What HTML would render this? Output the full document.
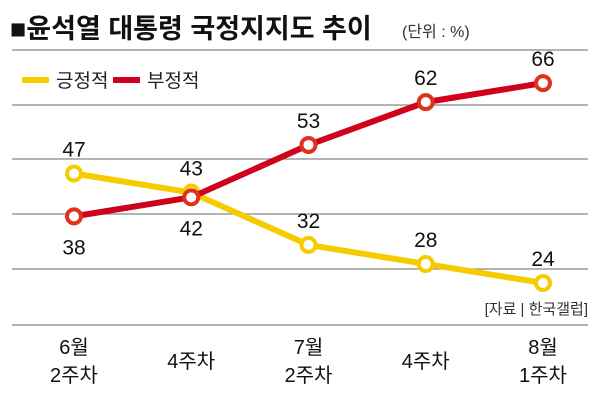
<!DOCTYPE html>
<html><head><meta charset="utf-8"><style>
body{margin:0;background:#fff;}
svg{display:block;font-family:"Liberation Sans Narrow","Liberation Sans","Noto Sans CJK KR",sans-serif;}
</style></head><body>
<svg width="600" height="408" viewBox="0 0 600 408">
<text x="10" y="38" font-size="27" font-weight="bold" fill="#111" font-family="Liberation Sans,Noto Sans CJK KR,sans-serif">■윤석열 대통령 국정지지도 추이</text>
<text x="402" y="37" font-size="16" fill="#333" font-family="Liberation Sans,Noto Sans CJK KR,sans-serif">(단위 : %)</text>
<g id="grid"></g>
<rect x="22" y="77" width="27" height="6" fill="#f5cc00"/>
<text x="56" y="87" font-size="19" fill="#222" font-family="Liberation Sans,Noto Sans CJK KR,sans-serif">긍정적</text>
<rect x="113" y="77" width="27" height="6" fill="#d0021b"/>
<text x="147" y="87" font-size="19" fill="#222" font-family="Liberation Sans,Noto Sans CJK KR,sans-serif">부정적</text>
<g id="series"></g>
<g id="xlabels"></g>
<text x="588" y="314" font-size="15" fill="#333" text-anchor="end" font-family="Liberation Sans,Noto Sans CJK KR,sans-serif">[자료 | 한국갤럽]</text>
</svg>
<script>
const categories=[["6월","2주차"],["4주차"],["7월","2주차"],["4주차"],["8월","1주차"]];
const positive=[47,43,32,28,24];
const negative=[38,42,53,62,66];
const gridYs=[50,105,159,214,269,325];
const NS="http://www.w3.org/2000/svg";
function xs(i){return 74+i*117.25;}
function ys(v){return 283-(v-24)*4.76;}
function mk(tag,attrs,parent){const e=document.createElementNS(NS,tag);for(const k in attrs)e.setAttribute(k,attrs[k]);parent.appendChild(e);return e;}
const grid=document.getElementById('grid');
gridYs.forEach(y=>{
 const l=mk('line',{x1:12,x2:588,y1:y,y2:y,stroke:'#888','stroke-width':1.2},grid);
 
 
});
const S=document.getElementById('series');
function draw(vals,color,mcol,name,above){
 const pts=vals.map((v,i)=>xs(i)+','+ys(v)).join(' ');
 const pl=mk('polyline',{points:pts,fill:'none',stroke:color,'stroke-width':6,'stroke-linejoin':'round'},S);
 
 
 vals.forEach((v,i)=>{
  const c=mk('circle',{cx:xs(i),cy:ys(v),r:7,fill:'#fff',stroke:mcol,'stroke-width':4},S);
  
  
 });
 return ()=>vals.forEach((v,i)=>{
  const up=above(i);
  const t=mk('text',{x:xs(i),y:ys(v)+(up?-17:38),'font-size':21,'text-anchor':'middle',fill:'#111'},S);
  t.textContent=v;
  
  
 });
}
const lp=draw(positive,'#f5cc00','#f5cc00','positive',i=>positive[i]>=negative[i]||i!==1?positive[i]>=negative[i]||true:true);
const ln=draw(negative,'#d0021b','#e0311d','negative',i=>negative[i]>positive[i]);
lp();ln();
const X=document.getElementById('xlabels');
categories.forEach((c,i)=>{
 const t=mk('text',{x:xs(i),'font-size':20,'text-anchor':'middle',fill:'#111'},X);
 
 
 if(c.length===1){t.setAttribute('y',368);t.textContent=c[0];}
 else c.forEach((s,j)=>{const ts=mk('tspan',{x:xs(i),y:354+j*28},t);ts.textContent=s;});
});
</script>
</body></html>
